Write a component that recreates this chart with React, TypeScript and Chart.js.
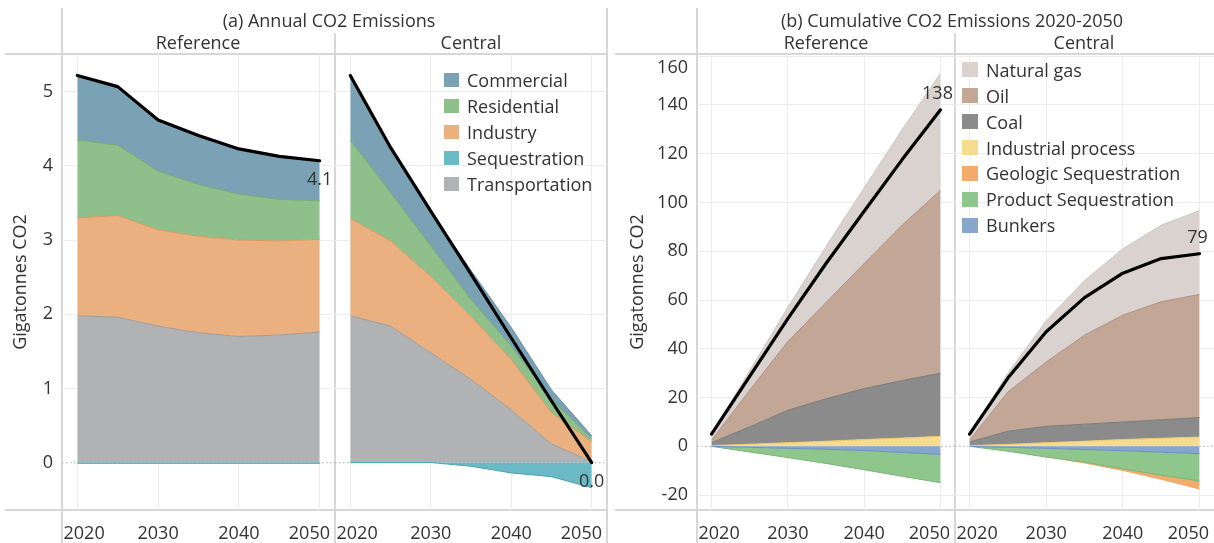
import React, { useEffect, useRef } from "react";
import { Chart, registerables } from "chart.js";

Chart.register(...registerables);

const FONT = "'Open Sans', 'Noto Sans', sans-serif";
const INK = "#333333";
const FRAME = "#d7d7d7";
const GRID = "#ececec";

// ---------- shared axes ----------
const years = [2020, 2025, 2030, 2035, 2040, 2045, 2050];
const yearTicks = [2020, 2030, 2040, 2050];
const annualTicks = [0, 1, 2, 3, 4, 5];
const cumulativeTicks = [-20, 0, 20, 40, 60, 80, 100, 120, 140, 160];

// ---------- (a) Annual CO2 emissions, Gt ----------
const annualNames = ["Commercial", "Residential", "Industry", "Sequestration", "Transportation"];
const annualFill = ["#7aa1b4", "#8fbf8a", "#ebb07f", "#6cb9c6", "#b1b2b4"];
const annualLine = ["#5f8ea3", "#74ab6e", "#dc985f", "#4aa5b4", "#9d9ea0"];

const refCommercial = [0.87, 0.79, 0.69, 0.66, 0.61, 0.58, 0.54];
const refResidential = [1.05, 0.95, 0.79, 0.7, 0.62, 0.56, 0.52];
const refIndustry = [1.32, 1.37, 1.3, 1.3, 1.3, 1.27, 1.25];
const refSequestration = [-0.01, -0.01, -0.01, -0.01, -0.01, -0.01, -0.01];
const refTransportation = [1.98, 1.96, 1.84, 1.75, 1.7, 1.72, 1.76];
const refAnnualTotal = [5.22, 5.07, 4.62, 4.41, 4.23, 4.13, 4.07];

const cenCommercial = [0.87, 0.61, 0.47, 0.39, 0.25, 0.13, 0.04];
const cenResidential = [1.06, 0.65, 0.41, 0.23, 0.18, 0.18, 0.04];
const cenIndustry = [1.31, 1.15, 1.03, 0.85, 0.68, 0.42, 0.27];
const cenSequestration = [0, 0, 0, -0.05, -0.14, -0.19, -0.34];
const cenTransportation = [1.98, 1.84, 1.48, 1.12, 0.71, 0.25, 0.01];
const cenAnnualTotal = [5.22, 4.25, 3.39, 2.54, 1.68, 0.83, 0.0];

// ---------- (b) Cumulative CO2 emissions 2020-2050, Gt ----------
const cumNames = [
  "Natural gas",
  "Oil",
  "Coal",
  "Industrial process",
  "Geologic Sequestration",
  "Product Sequestration",
  "Bunkers",
];
const cumFill = ["#d9d2cf", "#c2a797", "#8b8b8b", "#f6dc8f", "#f2ab6a", "#8fc68b", "#86a6cd"];
const cumLine = ["#cfc6c2", "#b0907e", "#7b7b7b", "#ebc96c", "#e8924a", "#78b574", "#6f90bc"];

const refGas = [2.7, 8, 14, 23, 31, 39.2, 48];
const refOil = [1.0, 15, 28.2, 39.5, 51.3, 63.8, 75];
const refCoal = [1.2, 7.1, 13.3, 17.4, 20.9, 23.6, 25.9];
const refIndustrial = [0.3, 0.9, 1.5, 2.1, 2.8, 3.4, 4.1];
const refGeologic = [0, 0, 0, 0, 0, 0, 0];
const refProduct = [0, -1.9, -3.8, -5.8, -7.9, -9.8, -11.6];
const refBunkers = [0, -0.4, -0.8, -1.2, -1.7, -2.5, -3.3];
const refCumTotal = [5, 28.7, 52.4, 75, 96.4, 117.7, 138];

const cenGas = [2.7, 7.7, 16.9, 22.4, 27.2, 31.4, 34.4];
const cenOil = [0.7, 16.1, 26.4, 36.5, 43.8, 48.4, 50.5];
const cenCoal = [1.5, 5.4, 6.7, 7.0, 7.2, 7.6, 8.0];
const cenIndustrial = [0.3, 0.8, 1.5, 2.1, 2.8, 3.3, 3.8];
const cenGeologic = [0, 0, -0.1, -0.5, -0.9, -1.9, -3.5];
const cenProduct = [0, -1.6, -3.6, -5.2, -7.4, -9.4, -11.2];
const cenBunkers = [0, -0.4, -0.8, -1.3, -1.8, -2.4, -3.0];
const cenCumTotal = [5, 28, 47, 61, 71, 77, 79];

// ---------- chart building ----------
type Series = { label: string; data: number[]; fill: string; line: string; base: boolean; width: number };

interface PanelSpec {
  key: string;
  left: number;
  width: number;
  chartLeft: number;
  chartRight: number;
  showY: boolean;
  titlePad: number;
  yMin: number;
  yMax: number;
  yTicks: number[];
  series: Series[];
  total: number[];
  digits: number;
  labelDx: number;
  labelDy: number;
}

const aSeries = (label: string, data: number[], base: boolean): Series => {
  const i = annualNames.indexOf(label);
  return { label, data, fill: annualFill[i], line: annualLine[i], base, width: 1 };
};
const bSeries = (label: string, data: number[], base: boolean, width = 1): Series => {
  const i = cumNames.indexOf(label);
  return { label, data, fill: cumFill[i], line: cumLine[i], base, width };
};

// keeps the outermost tick labels inside their panel, as the original tool does
const clampLabels = {
  id: "clampLabels",
  beforeDraw(chart: any) {
    const { ctx, chartArea } = chart;
    const xs = chart.scales.x;
    const xItems = xs.getLabelItems();
    xItems.forEach((it: any) => {
      ctx.save();
      ctx.font = it.font.string;
      const w = ctx.measureText(String(it.label)).width;
      ctx.restore();
      const tr = it.options.translation;
      const minX = chartArea.left + 1.5 + w / 2;
      const maxX = chartArea.right - 5 - w / 2;
      if (tr[0] < minX) tr[0] = minX;
      if (tr[0] > maxX) tr[0] = maxX;
    });
    const ys = chart.scales.y;
    if (ys.options.ticks.display) {
      const yItems = ys.getLabelItems();
      yItems.forEach((it: any) => {
        const tr = it.options.translation;
        if (tr[1] < chartArea.top + 14) tr[1] = chartArea.top + 14;
      });
    }
  },
};

function makeConfig(s: PanelSpec): any {
  const pts = (arr: number[]) => years.map((x, i) => ({ x, y: arr[i] }));
  const datasets: any[] = [
    {
      label: "Total",
      data: pts(s.total),
      borderColor: "#000000",
      borderWidth: 3.2,
      pointRadius: 0,
      fill: false,
      stack: "total",
      tension: 0,
      borderJoinStyle: "round",
      borderCapStyle: "round",
    },
  ];
  s.series.forEach((ser) => {
    datasets.push({
      label: ser.label,
      data: pts(ser.data),
      backgroundColor: ser.fill,
      borderColor: ser.line,
      borderWidth: ser.width,
      pointRadius: 0,
      fill: ser.base ? "origin" : "-1",
      stack: "areas",
      tension: 0,
    });
  });

  const yAxisWidth = s.showY ? s.chartLeft - s.left : 0;
  const padLeft = s.showY ? 0 : s.chartLeft - s.left;
  const padRight = s.left + s.width - s.chartRight;
  const lastYear = years[years.length - 1];
  const lastTotal = s.total[s.total.length - 1];

  const zeroLine = {
    id: "zeroLine",
    beforeDatasetsDraw(chart: any) {
      const { ctx, chartArea } = chart;
      const y = chart.scales.y.getPixelForValue(0);
      ctx.save();
      ctx.strokeStyle = "#bdbdbd";
      ctx.lineWidth = 1.2;
      ctx.setLineDash([1.5, 2.5]);
      ctx.beginPath();
      ctx.moveTo(chartArea.left, y);
      ctx.lineTo(chartArea.right, y);
      ctx.stroke();
      ctx.restore();
    },
  };
  const endLabel = {
    id: "endLabel",
    afterDatasetsDraw(chart: any) {
      const { ctx } = chart;
      const x = chart.scales.x.getPixelForValue(lastYear) + s.labelDx;
      const y = chart.scales.y.getPixelForValue(lastTotal) + s.labelDy;
      ctx.save();
      ctx.font = `18px ${FONT}`;
      ctx.fillStyle = INK;
      ctx.textAlign = "center";
      ctx.textBaseline = "middle";
      ctx.fillText(lastTotal.toFixed(s.digits), x, y);
      ctx.restore();
    },
  };

  return {
    type: "line",
    data: { datasets },
    plugins: [clampLabels, zeroLine, endLabel],
    options: {
      animation: false,
      responsive: false,
      events: [],
      layout: { autoPadding: false, padding: { top: 54, bottom: 0, left: padLeft, right: padRight } },
      plugins: { legend: { display: false }, tooltip: { enabled: false }, title: { display: false } },
      scales: {
        x: {
          type: "linear",
          position: "bottom",
          min: 2018.1,
          max: 2051.9,
          afterBuildTicks: (sc: any) => {
            sc.ticks = yearTicks.map((v) => ({ value: v }));
          },
          afterFit: (sc: any) => {
            sc.height = 33;
            sc.paddingLeft = 0;
            sc.paddingRight = 0;
          },
          ticks: {
            padding: 13,
            maxRotation: 0,
            autoSkip: false,
            color: INK,
            font: { size: 18, family: FONT },
            callback: (v: any) => String(v),
          },
          grid: { color: GRID, lineWidth: 1, drawTicks: false },
          border: { display: false },
        },
        y: {
          type: "linear",
          position: "left",
          stacked: true,
          min: s.yMin,
          max: s.yMax,
          afterBuildTicks: (sc: any) => {
            sc.ticks = s.yTicks.map((v) => ({ value: v }));
          },
          afterFit: (sc: any) => {
            sc.width = yAxisWidth;
            sc.paddingTop = 0;
            sc.paddingBottom = 0;
          },
          ticks: {
            display: s.showY,
            padding: 9,
            color: INK,
            font: { size: 18, family: FONT },
            callback: (v: any) => String(v),
          },
          grid: {
            color: (ctx: any) => (ctx.tick && ctx.tick.value === 0 ? "rgba(0,0,0,0)" : GRID),
            lineWidth: 1,
            drawTicks: false,
          },
          border: { display: false },
          title: {
            display: s.showY,
            text: "Gigatonnes CO2",
            color: INK,
            font: { size: 18, family: FONT },
            padding: { top: s.titlePad, bottom: 0 },
          },
        },
      },
    },
  };
}

// ---------- panel specs ----------
const annualYMin = -0.64;
const annualYMax = 5.51;
const cumYMin = -26.1;
const cumYMax = 160.9;

const specs: PanelSpec[] = [
  {
    key: "a-ref",
    left: 0,
    width: 345,
    chartLeft: 62,
    chartRight: 335,
    showY: true,
    titlePad: 9.7,
    yMin: annualYMin,
    yMax: annualYMax,
    yTicks: annualTicks,
    series: [
      aSeries("Sequestration", refSequestration, true),
      aSeries("Transportation", refTransportation, true),
      aSeries("Industry", refIndustry, false),
      aSeries("Residential", refResidential, false),
      aSeries("Commercial", refCommercial, false),
    ],
    total: refAnnualTotal,
    digits: 1,
    labelDx: 0,
    labelDy: 19,
  },
  {
    key: "a-cen",
    left: 325,
    width: 293,
    chartLeft: 335,
    chartRight: 607,
    showY: false,
    titlePad: 0,
    yMin: annualYMin,
    yMax: annualYMax,
    yTicks: annualTicks,
    series: [
      aSeries("Sequestration", cenSequestration, true),
      aSeries("Transportation", cenTransportation, true),
      aSeries("Industry", cenIndustry, false),
      aSeries("Residential", cenResidential, false),
      aSeries("Commercial", cenCommercial, false),
    ],
    total: cenAnnualTotal,
    digits: 1,
    labelDx: 0,
    labelDy: 19,
  },
  {
    key: "b-ref",
    left: 600,
    width: 365,
    chartLeft: 697,
    chartRight: 955,
    showY: true,
    titlePad: 26.7,
    yMin: cumYMin,
    yMax: cumYMax,
    yTicks: cumulativeTicks,
    series: [
      bSeries("Bunkers", refBunkers, true),
      bSeries("Product Sequestration", refProduct, false),
      bSeries("Geologic Sequestration", refGeologic, false, 0),
      bSeries("Industrial process", refIndustrial, true),
      bSeries("Coal", refCoal, false),
      bSeries("Oil", refOil, false),
      bSeries("Natural gas", refGas, false),
    ],
    total: refCumTotal,
    digits: 0,
    labelDx: -3,
    labelDy: -16,
  },
  {
    key: "b-cen",
    left: 945,
    width: 269,
    chartLeft: 955,
    chartRight: 1214,
    showY: false,
    titlePad: 0,
    yMin: cumYMin,
    yMax: cumYMax,
    yTicks: cumulativeTicks,
    series: [
      bSeries("Bunkers", cenBunkers, true),
      bSeries("Product Sequestration", cenProduct, false),
      bSeries("Geologic Sequestration", cenGeologic, false, 0),
      bSeries("Industrial process", cenIndustrial, true),
      bSeries("Coal", cenCoal, false),
      bSeries("Oil", cenOil, false),
      bSeries("Natural gas", cenGas, false),
    ],
    total: cenCumTotal,
    digits: 0,
    labelDx: -2,
    labelDy: -16,
  },
];

// ---------- components ----------
function ChartPanel({ spec }: { spec: PanelSpec }) {
  const ref = useRef<HTMLCanvasElement | null>(null);
  useEffect(() => {
    if (!ref.current) return;
    const chart = new Chart(ref.current, makeConfig(spec));
    return () => chart.destroy();
  }, [spec]);
  return (
    <canvas
      ref={ref}
      width={spec.width}
      height={543}
      style={{ position: "absolute", left: spec.left, top: 0, width: spec.width, height: 543 }}
    />
  );
}

function Text({ cx, cy, size, children }: { cx: number; cy: number; size: number; children: React.ReactNode }) {
  return (
    <div
      style={{
        position: "absolute",
        left: cx,
        top: cy,
        transform: "translate(-50%, -50%)",
        whiteSpace: "nowrap",
        font: `${size}px ${FONT}`,
        lineHeight: 1.2,
        color: INK,
      }}
    >
      {children}
    </div>
  );
}

function Line({ x, y, w, h }: { x: number; y: number; w: number; h: number }) {
  return <div style={{ position: "absolute", left: x, top: y, width: w, height: h, background: FRAME }} />;
}

function Legend({
  left,
  top,
  step,
  names,
  colors,
  swatch,
}: {
  left: number;
  top: number;
  step: number;
  names: string[];
  colors: string[];
  swatch: number;
}) {
  return (
    <>
      {names.map((n, i) => (
        <div
          key={n}
          style={{
            position: "absolute",
            left,
            top: top + i * step - step / 2,
            height: step,
            display: "flex",
            alignItems: "center",
            whiteSpace: "nowrap",
            font: `18px ${FONT}`,
            color: INK,
          }}
        >
          <span
            style={{ display: "inline-block", width: swatch, height: swatch - 1, background: colors[i], marginRight: 8 }}
          />
          {n}
        </div>
      ))}
    </>
  );
}

export default function App() {
  return (
    <div
      style={{
        position: "absolute",
        left: 0,
        top: 0,
        width: 1214,
        height: 543,
        overflow: "hidden",
        background: "#ffffff",
      }}
    >
      {/* frame lines, panel a */}
      <Line x={5} y={53} w={603} h={2} />
      <Line x={5} y={509} w={603} h={2} />
      <Line x={61} y={8} w={2} h={535} />
      <Line x={334} y={33} w={2} h={510} />
      <Line x={606} y={8} w={2} h={535} />
      {/* frame lines, panel b */}
      <Line x={615} y={53} w={599} h={2} />
      <Line x={615} y={509} w={599} h={2} />
      <Line x={696} y={8} w={2} h={535} />
      <Line x={954} y={33} w={2} h={510} />

      {specs.map((s) => (
        <ChartPanel key={s.key} spec={s} />
      ))}

      <Text cx={329} cy={21} size={18}>
        (a) Annual CO2 Emissions
      </Text>
      <Text cx={198} cy={43} size={18}>
        Reference
      </Text>
      <Text cx={471} cy={43} size={18}>
        Central
      </Text>
      <Text cx={952} cy={21} size={18}>
        (b) Cumulative CO2 Emissions 2020-2050
      </Text>
      <Text cx={826} cy={43} size={18}>
        Reference
      </Text>
      <Text cx={1084} cy={43} size={18}>
        Central
      </Text>

      <Legend left={444} top={80} step={26} names={annualNames} colors={annualFill} swatch={15} />
      <Legend left={962} top={70} step={25.85} names={cumNames} colors={cumFill} swatch={16} />
    </div>
  );
}
